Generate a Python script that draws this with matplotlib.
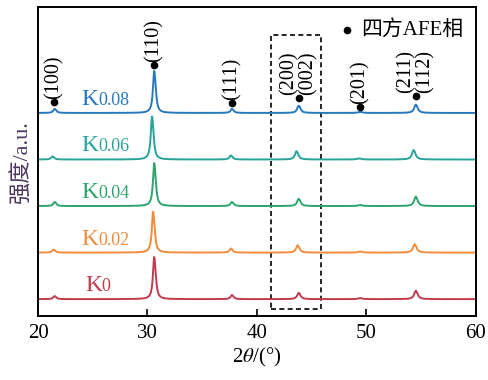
import numpy as np
import matplotlib
matplotlib.use("Agg")
import matplotlib.pyplot as plt
from matplotlib.patches import Rectangle

plt.rcParams["font.family"] = ["Liberation Serif", "Noto Sans CJK SC"]
plt.rcParams["mathtext.fontset"] = "stix"

# sample names (base + subscript-like part) and colours
samples = ["0", "0.02", "0.04", "0.06", "0.08"]
colors = ["#c23a4e", "#f28c3c", "#2ba56b", "#28a39b", "#2878be"]

# peak positions (2theta) per sample and peak heights (a.u.)
peak_pos = {
    "0":    [21.5, 30.6, 37.7, 43.8, 49.4, 54.5],
    "0.02": [21.4, 30.5, 37.6, 43.7, 49.4, 54.4],
    "0.04": [21.5, 30.6, 37.7, 43.8, 49.4, 54.5],
    "0.06": [21.3, 30.4, 37.6, 43.6, 49.3, 54.3],
    "0.08": [21.5, 30.6, 37.7, 43.8, 49.4, 54.5],
}
peak_h = {
    "0":    [3, 42, 4, 6, 1, 8],
    "0.02": [3, 41, 4, 7, 1, 8],
    "0.04": [4, 43, 4, 7, 1, 9],
    "0.06": [3, 43, 4, 8, 1, 9],
    "0.08": [4, 42, 4, 7, 1, 8],
}
peak_w = [0.14, 0.13, 0.14, 0.16, 0.2, 0.17]

# hkl labels above the top pattern (position, label, dot height above baseline)
hkl_x = [21.5, 30.6, 37.7, 43.8, 49.4, 54.5]
hkl_lbl = ["(100)", "(110)", "(111)", "(200)\n(002)", "(201)", "(211)\n(112)"]
hkl_dot = [11, 48, 10, 15, 6, 17]

base0 = 17
step = 46.5

two_theta = np.linspace(20, 60, 4000)


def pattern(pos, h):
    y = np.zeros_like(two_theta)
    for p, a, w in zip(pos, h, peak_w):
        y += a / (1 + ((two_theta - p) / w) ** 2)
        # small K-alpha2 shoulder
        y += 0.35 * a / (1 + ((two_theta - p - 0.12) / w) ** 2)
    return y / 1.2


fig = plt.figure(figsize=(4.88, 3.80), dpi=100)
ax = fig.add_axes([0.078, 0.168, 0.897, 0.814])

for i, (s, c) in enumerate(zip(samples, colors)):
    off = base0 + i * step
    ax.plot(two_theta, pattern(peak_pos[s], peak_h[s]) + off, color=c, lw=1.4)
    x0 = 24.0 if s != "0" else 24.3
    ax.text(x0, off + 8, "K", color=c, fontsize=17, ha="left", va="baseline")
    ax.annotate(s, xy=(x0, off + 8), xytext=(12, 0),
                textcoords="offset points", color=c, fontsize=13,
                ha="left", va="baseline")

top = base0 + 4 * step
for x, lbl, d in zip(hkl_x, hkl_lbl, hkl_dot):
    ax.plot(x, top + d, "o", color="black", ms=4.5)
    ax.text(x, top + d + 3, lbl, rotation=90, ha="center", va="bottom",
            fontsize=14.5, linespacing=0.95)

# legend marker
ax.plot(48.2, 286, "o", color="black", ms=4.5)
ax.text(49.5, 286, "四方AFE相", fontsize=15, ha="left", va="center")

ax.add_patch(Rectangle((41.3, 7), 4.6, 274, fill=False, ls=(0, (3, 2)),
                       lw=1.2, ec="black"))

ax.set_xlim(20, 60)
ax.set_ylim(0, 309)
ax.set_xticks([20, 30, 40, 50, 60])
ax.set_yticks([])
ax.tick_params(axis="x", direction="in", length=5, width=1.2, labelsize=15, pad=6)
for sp in ax.spines.values():
    sp.set_linewidth(1.4)
ax.set_xlabel("2$\\theta$/(°)", fontsize=15, labelpad=2)
ax.set_ylabel("强度/a.u.", fontsize=16, color="#4a3560", labelpad=4)

fig.savefig("out.png", dpi=100)
